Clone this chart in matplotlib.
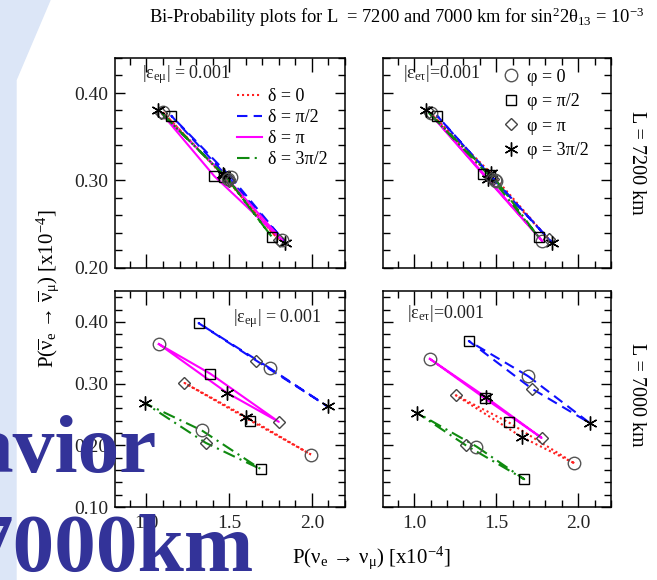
import matplotlib.pyplot as plt
from matplotlib.lines import Line2D
from matplotlib.patches import Polygon
from matplotlib.ticker import MultipleLocator, FormatStrFormatter

plt.rcParams['font.family'] = ['Liberation Serif', 'DejaVu Serif']
plt.rcParams['mathtext.fontset'] = 'custom'
plt.rcParams['mathtext.rm'] = 'Liberation Serif'
plt.rcParams['mathtext.it'] = 'Liberation Serif:italic'
plt.rcParams['mathtext.bf'] = 'Liberation Serif:bold'
plt.rcParams['mathtext.default'] = 'regular'

# rows: delta = 0, pi/2, pi, 3pi/2 ; columns: phi = 0, pi/2, pi, 3pi/2
delta_labels = ['δ = 0', 'δ = π/2', 'δ = π', 'δ = 3π/2']
phi_labels = ['φ = 0', 'φ = π/2', 'φ = π', 'φ = 3π/2']

# L = 7200 km, eps_emu
tl_x = [[1.10, 1.47, 1.80, 1.46],
        [1.51, 1.15, 1.50, 1.84],
        [1.82, 1.41, 1.09, 1.47],
        [1.49, 1.76, 1.50, 1.07]]
tl_y = [[0.378, 0.304, 0.232, 0.307],
        [0.304, 0.374, 0.302, 0.229],
        [0.232, 0.305, 0.377, 0.306],
        [0.302, 0.235, 0.300, 0.381]]

# L = 7200 km, eps_etau
tr_x = [[1.10, 1.46, 1.82, 1.47],
        [1.49, 1.14, 1.48, 1.84],
        [1.78, 1.42, 1.09, 1.45],
        [1.50, 1.76, 1.47, 1.07]]
tr_y = [[0.377, 0.306, 0.233, 0.308],
        [0.301, 0.374, 0.302, 0.229],
        [0.231, 0.307, 0.378, 0.302],
        [0.300, 0.235, 0.303, 0.381]]

# L = 7000 km, eps_emu
bl_x = [[1.994, 1.628, 1.230, 1.604],
        [1.745, 1.315, 1.665, 2.095],
        [1.075, 1.386, 1.800, 1.487],
        [1.335, 1.693, 1.358, 0.992]]
bl_y = [[0.185, 0.240, 0.301, 0.246],
        [0.325, 0.398, 0.337, 0.263],
        [0.364, 0.316, 0.238, 0.285],
        [0.224, 0.161, 0.204, 0.268]]

# L = 7000 km, eps_etau
br_x = [[1.976, 1.577, 1.254, 1.659],
        [1.695, 1.333, 1.716, 2.071],
        [1.096, 1.431, 1.777, 1.437],
        [1.380, 1.671, 1.315, 1.015]]
br_y = [[0.171, 0.237, 0.281, 0.213],
        [0.312, 0.369, 0.292, 0.236],
        [0.340, 0.276, 0.212, 0.278],
        [0.198, 0.145, 0.200, 0.253]]

line_colors = ['#ff2020', '#1010ff', '#ff00ff', '#108a10']
line_styles = [(0, (1, 1.4)), (0, (5, 3)), '-', (0, (6, 2.5, 1, 2.5))]
marker_kw = [dict(marker='o', ms=9, mec='#555555'),
             dict(marker='s', ms=7.5, mec='black'),
             dict(marker='D', ms=6.5, mec='#444444'),
             dict(marker=(6, 2, 0), ms=10, mec='black')]

W, H = 657, 580


def box(x0, y0, x1, y1):
    return [x0 / W, 1 - y1 / H, (x1 - x0) / W, (y1 - y0) / H]


fig = plt.figure(figsize=(W / 100, H / 100), dpi=100)
fig.add_artist(Polygon([(0, 0), (16 / W, 0), (16 / W, 1 - 80 / H), (50 / W, 1), (0, 1)],
                       closed=True, transform=fig.transFigure, color='#dce6f7', zorder=0))

ax_tl = fig.add_axes(box(115, 58, 345, 268))
ax_tr = fig.add_axes(box(383, 58, 611, 268))
ax_bl = fig.add_axes(box(115, 291, 345, 507))
ax_br = fig.add_axes(box(383, 291, 611, 507))

panels = [(ax_tl, tl_x, tl_y), (ax_tr, tr_x, tr_y), (ax_bl, bl_x, bl_y), (ax_br, br_x, br_y)]

for ax, xs, ys in panels:
    for i in range(4):
        ax.plot(xs[i] + xs[i][:1], ys[i] + ys[i][:1], color=line_colors[i],
                ls=line_styles[i], lw=1.5, zorder=2)
    for i in range(4):
        for j in range(4):
            ax.plot(xs[i][j], ys[i][j], ls='none', mfc='none', mew=1.0, zorder=3, **marker_kw[j])
    ax.set_xlim(0.81, 2.2)
    ax.xaxis.set_major_locator(MultipleLocator(0.5))
    ax.xaxis.set_minor_locator(MultipleLocator(0.1))
    ax.yaxis.set_major_locator(MultipleLocator(0.1))
    ax.yaxis.set_minor_locator(MultipleLocator(0.02))
    ax.xaxis.set_major_formatter(FormatStrFormatter('%.1f'))
    ax.yaxis.set_major_formatter(FormatStrFormatter('%.2f'))
    ax.tick_params(which='both', direction='in', top=True, right=True, width=1.0,
                   labelsize=14, labelcolor='#222222')
    ax.tick_params(axis='x', which='major', length=10, pad=6)
    ax.tick_params(axis='y', which='major', length=7.5, pad=5)
    ax.tick_params(which='minor', length=5)
    for s in ax.spines.values():
        s.set_linewidth(1.1)

for ax in (ax_tl, ax_tr):
    ax.set_ylim(0.20, 0.44)
    ax.tick_params(labelbottom=False)
for ax in (ax_bl, ax_br):
    ax.set_ylim(0.10, 0.45)
for ax in (ax_tr, ax_br):
    ax.tick_params(labelleft=False)

# panel labels
ax_tl.text(0.117, 0.905, '|$ε_{eμ}$| = 0.001', transform=ax_tl.transAxes, fontsize=13, color='#222222')
ax_tr.text(0.088, 0.905, '|$ε_{eτ}$|=0.001', transform=ax_tr.transAxes, fontsize=13, color='#222222')
ax_bl.text(0.513, 0.856, '|$ε_{eμ}$| = 0.001', transform=ax_bl.transAxes, fontsize=13, color='#222222')
ax_br.text(0.105, 0.875, '|$ε_{eτ}$|=0.001', transform=ax_br.transAxes, fontsize=13, color='#222222')

# legends
line_handles = [Line2D([], [], color=line_colors[i], ls=line_styles[i], lw=1.5) for i in range(4)]
ax_tl.legend(line_handles, delta_labels, loc='upper left', bbox_to_anchor=(0.53, 0.855),
             frameon=False, fontsize=13, handlelength=1.4, handletextpad=0.35,
             labelspacing=0.22, borderpad=0, borderaxespad=0)
mark_handles = [Line2D([], [], ls='none', mfc='none', mew=1.0, **marker_kw[j]) for j in range(4)]
ax_tr.legend(mark_handles, phi_labels, loc='upper left', bbox_to_anchor=(0.52, 0.95),
             frameon=False, fontsize=13, handlelength=1.0, handletextpad=0.4,
             labelspacing=0.42, borderpad=0, borderaxespad=0)

fig.text(397 / W, 1 - 17 / H, 'Bi-Probability plots for L  = 7200 and 7000 km for sin$^{2}$2θ$_{13}$ = 10$^{-3}$',
         ha='center', va='center', fontsize=13.3)
fig.text(637 / W, 1 - 163 / H, 'L = 7200 km', rotation=-90, ha='center', va='center', fontsize=14.5)
fig.text(637 / W, 1 - 395 / H, 'L = 7000 km', rotation=-90, ha='center', va='center', fontsize=14.5)
fig.text(48 / W, 1 - 289 / H, 'P($\\overline{ν}_{e}$ → $\\overline{ν}_{μ}$) [x10$^{-4}$]',
         rotation=90, ha='center', va='center', fontsize=15)
fig.text(371 / W, 1 - 563 / H, 'P($ν_{e}$ → $ν_{μ}$) [x10$^{-4}$]',
         ha='center', va='baseline', fontsize=15)

# slide title fragments lying over the figure
fig.text(157 / W, 1 - 472 / H, 'avior', ha='right', va='baseline', fontsize=60,
         fontweight='bold', color='#333399', zorder=10)
fig.text(253 / W, 1 - 571 / H, '7000km', ha='right', va='baseline', fontsize=60,
         fontweight='bold', color='#333399', zorder=10)

fig.savefig('out.png', dpi=100)
